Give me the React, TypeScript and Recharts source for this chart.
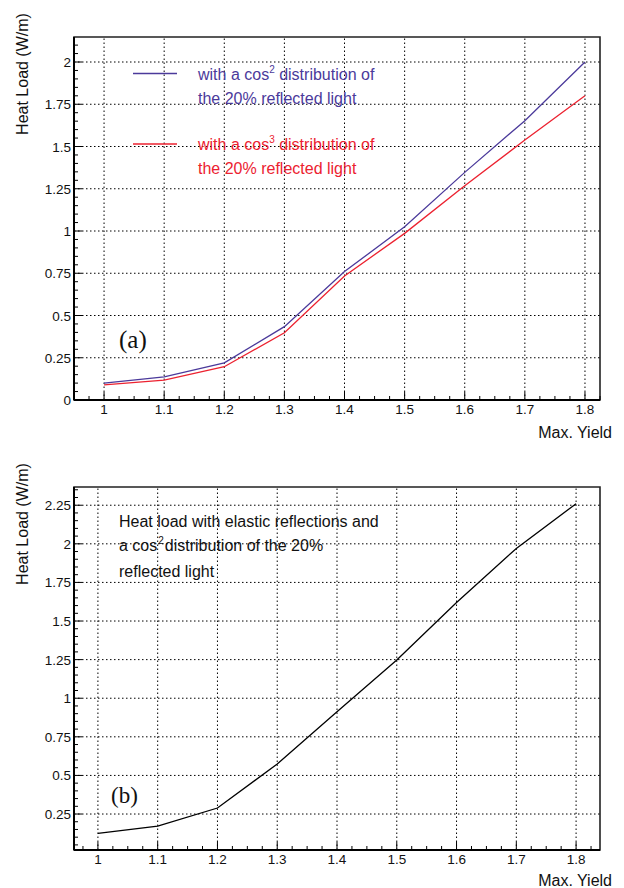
import React from 'react';
import { LineChart, Line, XAxis, YAxis, ReferenceLine, ReferenceArea, Legend } from 'recharts';

// Max. yield values (x axis, both panels)
const yields = [1, 1.1, 1.2, 1.3, 1.4, 1.5, 1.6, 1.7, 1.8];
// (a) heat load, cos^2 and cos^3 distributions of the 20% reflected light
const loadCos2 = [0.1, 0.137, 0.22, 0.434, 0.76, 1.025, 1.347, 1.653, 2.0];
const loadCos3 = [0.089, 0.118, 0.197, 0.398, 0.734, 0.986, 1.268, 1.538, 1.8];
// (b) heat load with elastic reflections
const loadElastic = [0.125, 0.172, 0.289, 0.574, 0.913, 1.247, 1.62, 1.97, 2.26];

const xTicks = [1, 1.1, 1.2, 1.3, 1.4, 1.5, 1.6, 1.7, 1.8];
const yTicksA = [0, 0.25, 0.5, 0.75, 1, 1.25, 1.5, 1.75, 2];
const yTicksB = [0.25, 0.5, 0.75, 1, 1.25, 1.5, 1.75, 2, 2.25];

const BLUE = '#4b3a9b';
const RED = '#ec2230';
const SANS = '"Liberation Sans", Arial, Helvetica, sans-serif';
const SERIF = '"Liberation Serif", "Times New Roman", serif';

const dataA = yields.map((y, i) => ({ yield: y, cos2: loadCos2[i], cos3: loadCos3[i] }));
const dataB = yields.map((y, i) => ({ yield: y, elastic: loadElastic[i] }));

// all tick positions (major + minor) inside a domain
function allTicks(lo: number, hi: number, step: number) {
  const out: number[] = [];
  const start = Math.ceil(lo / step - 1e-9);
  for (let k = start; k * step <= hi + 1e-9; k++) out.push(+(k * step).toFixed(4));
  return out;
}

const fmt = (v: number) => String(+v.toFixed(2));
const isMajor = (v: number, majors: number[]) => majors.some((m) => Math.abs(m - v) < 1e-6);

const makeXTick = (majors: number[]) => (p: any) => {
  const v = p.payload.value;
  const major = isMajor(v, majors);
  return (
    <g>
      <line x1={p.x} x2={p.x} y1={p.y} y2={p.y - (major ? 8 : 4)} stroke="#000" strokeWidth={1} />
      {major && (
        <text x={p.x} y={p.y + 14} textAnchor="middle" fontSize={13.5} fontFamily={SANS} fill="#111">
          {fmt(v)}
        </text>
      )}
    </g>
  );
};
const makeYTick = (majors: number[]) => (p: any) => {
  const v = p.payload.value;
  const major = isMajor(v, majors);
  return (
    <g>
      <line x1={p.x} x2={p.x + (major ? 8 : 4)} y1={p.y} y2={p.y} stroke="#000" strokeWidth={1} />
      {major && (
        <text x={p.x - 3} y={p.y + 5} textAnchor="end" fontSize={13.5} fontFamily={SANS} fill="#111">
          {fmt(v)}
        </text>
      )}
    </g>
  );
};

const legendPow: Record<string, string> = { cos2: '2', cos3: '3' };

const renderLegend = (props: any) => (
  <div style={{ fontFamily: SANS, fontSize: 16, lineHeight: '22px' }}>
    {(props.payload || []).map((entry: any, i: number) => (
      <div key={entry.dataKey} style={{ display: 'flex', marginTop: i === 0 ? 0 : 24, color: entry.color }}>
        <svg width={44} height={20} style={{ marginRight: 21, flex: 'none' }}>
          <line x1={0} x2={44} y1={9.5 + i * 0.5} y2={9.5 + i * 0.5} stroke={entry.color} strokeWidth={1.3} />
        </svg>
        <div>
          <div>
            with a cos
            <span style={{ fontSize: 10, position: 'relative', top: -7 }}>{legendPow[entry.dataKey]}</span>
            {' '}distribution of
          </div>
          <div>the 20% reflected light</div>
        </div>
      </div>
    ))}
  </div>
);

const yLabelStyle = (cy: number): React.CSSProperties => ({
  position: 'absolute',
  left: 22.5 - 90,
  top: cy - 9,
  width: 180,
  height: 18,
  lineHeight: '18px',
  textAlign: 'center',
  transform: 'rotate(-90deg)',
  fontFamily: SANS,
  fontSize: 16,
  color: '#111',
  whiteSpace: 'nowrap',
});

const xLabelStyle = (top: number): React.CSSProperties => ({
  position: 'absolute',
  right: 12,
  top,
  fontFamily: SANS,
  fontSize: 16,
  lineHeight: '16px',
  color: '#111',
  whiteSpace: 'nowrap',
});

const gridProps = { stroke: '#000', strokeDasharray: '1.5 2.5', strokeWidth: 1, xAxisId: 'x', yAxisId: 'y' };

export default function App() {
  const domXA: [number, number] = [0.95, 1.825];
  const domYA: [number, number] = [0, 2.148];
  const domXB: [number, number] = [0.96, 1.84];
  const domYB: [number, number] = [0.017, 2.368];

  return (
    <div style={{ position: 'absolute', left: 0, top: 0, width: 624, height: 888, background: '#fff' }}>
      {/* panel (a) */}
      <div style={{ position: 'absolute', left: 0, top: 0, width: 624, height: 444 }}>
        <LineChart width={624} height={444} data={dataA} margin={{ top: 37, right: 24, bottom: 43, left: 73 }}>
          {xTicks.map((v) => <ReferenceLine key={'gx' + v} x={v} {...gridProps} />)}
          {yTicksA.map((v) => <ReferenceLine key={'gy' + v} y={v} {...gridProps} />)}
          <ReferenceArea xAxisId="x" yAxisId="y" x1={domXA[0]} x2={domXA[1]} y1={domYA[0]} y2={domYA[1]} fill="none" stroke="#222" strokeWidth={1.6} />
          <XAxis xAxisId="x" type="number" dataKey="yield" domain={domXA} ticks={allTicks(domXA[0], domXA[1], 0.025)} allowDataOverflow height={1} tickSize={0} tickMargin={0} tickLine={false} interval={0} tick={makeXTick(xTicks)} axisLine={{ stroke: '#000', strokeWidth: 2 }} />
          <YAxis yAxisId="y" type="number" domain={domYA} ticks={allTicks(domYA[0], domYA[1], 0.05)} allowDataOverflow width={1} tickSize={0} tickMargin={0} tickLine={false} interval={0} tick={makeYTick(yTicksA)} axisLine={{ stroke: '#000', strokeWidth: 2 }} />
          <Legend layout="horizontal" verticalAlign="middle" align="center" content={renderLegend} wrapperStyle={{ left: 133, top: 64, width: 320, height: 'auto' }} />
          <Line xAxisId="x" yAxisId="y" type="linear" dataKey="cos2" stroke={BLUE} strokeWidth={1.3} dot={false} isAnimationActive={false} />
          <Line xAxisId="x" yAxisId="y" type="linear" dataKey="cos3" stroke={RED} strokeWidth={1.3} dot={false} isAnimationActive={false} />
        </LineChart>
        <div style={yLabelStyle(74)}>Heat Load (W/m)</div>
        <div style={xLabelStyle(424.7)}>Max. Yield</div>
        <div style={{ position: 'absolute', left: 119, top: 327, fontFamily: SERIF, fontSize: 25, lineHeight: '25px', color: '#111' }}>(a)</div>
      </div>

      {/* panel (b) */}
      <div style={{ position: 'absolute', left: 0, top: 444, width: 624, height: 444 }}>
        <LineChart width={624} height={444} data={dataB} margin={{ top: 43, right: 24, bottom: 37, left: 73 }}>
          {xTicks.map((v) => <ReferenceLine key={'gx' + v} x={v} {...gridProps} />)}
          {yTicksB.map((v) => <ReferenceLine key={'gy' + v} y={v} {...gridProps} />)}
          <ReferenceArea xAxisId="x" yAxisId="y" x1={domXB[0]} x2={domXB[1]} y1={domYB[0]} y2={domYB[1]} fill="none" stroke="#222" strokeWidth={1.6} />
          <XAxis xAxisId="x" type="number" dataKey="yield" domain={domXB} ticks={allTicks(domXB[0], domXB[1], 0.025)} allowDataOverflow height={1} tickSize={0} tickMargin={0} tickLine={false} interval={0} tick={makeXTick(xTicks)} axisLine={{ stroke: '#000', strokeWidth: 2 }} />
          <YAxis yAxisId="y" type="number" domain={domYB} ticks={allTicks(domYB[0], domYB[1], 0.05)} allowDataOverflow width={1} tickSize={0} tickMargin={0} tickLine={false} interval={0} tick={makeYTick(yTicksB)} axisLine={{ stroke: '#000', strokeWidth: 2 }} />
          <Line xAxisId="x" yAxisId="y" type="linear" dataKey="elastic" stroke="#000" strokeWidth={1.3} dot={false} isAnimationActive={false} />
        </LineChart>
        <div style={yLabelStyle(79.5)}>Heat Load (W/m)</div>
        <div style={xLabelStyle(429.2)}>Max. Yield</div>
        <div style={{ position: 'absolute', left: 119, top: 65.7, fontFamily: SANS, fontSize: 16, lineHeight: '24px', color: '#111', whiteSpace: 'nowrap' }}>
          <div>Heat load with elastic reflections and</div>
          <div>
            a cos<span style={{ fontSize: 10, position: 'relative', top: -7, marginLeft: 1, marginRight: 1 }}>2</span>distribution of the 20%
          </div>
          <div>reflected light</div>
        </div>
        <div style={{ position: 'absolute', left: 111, top: 339.7, fontFamily: SERIF, fontSize: 23, lineHeight: '23px', color: '#111' }}>(b)</div>
      </div>
    </div>
  );
}
